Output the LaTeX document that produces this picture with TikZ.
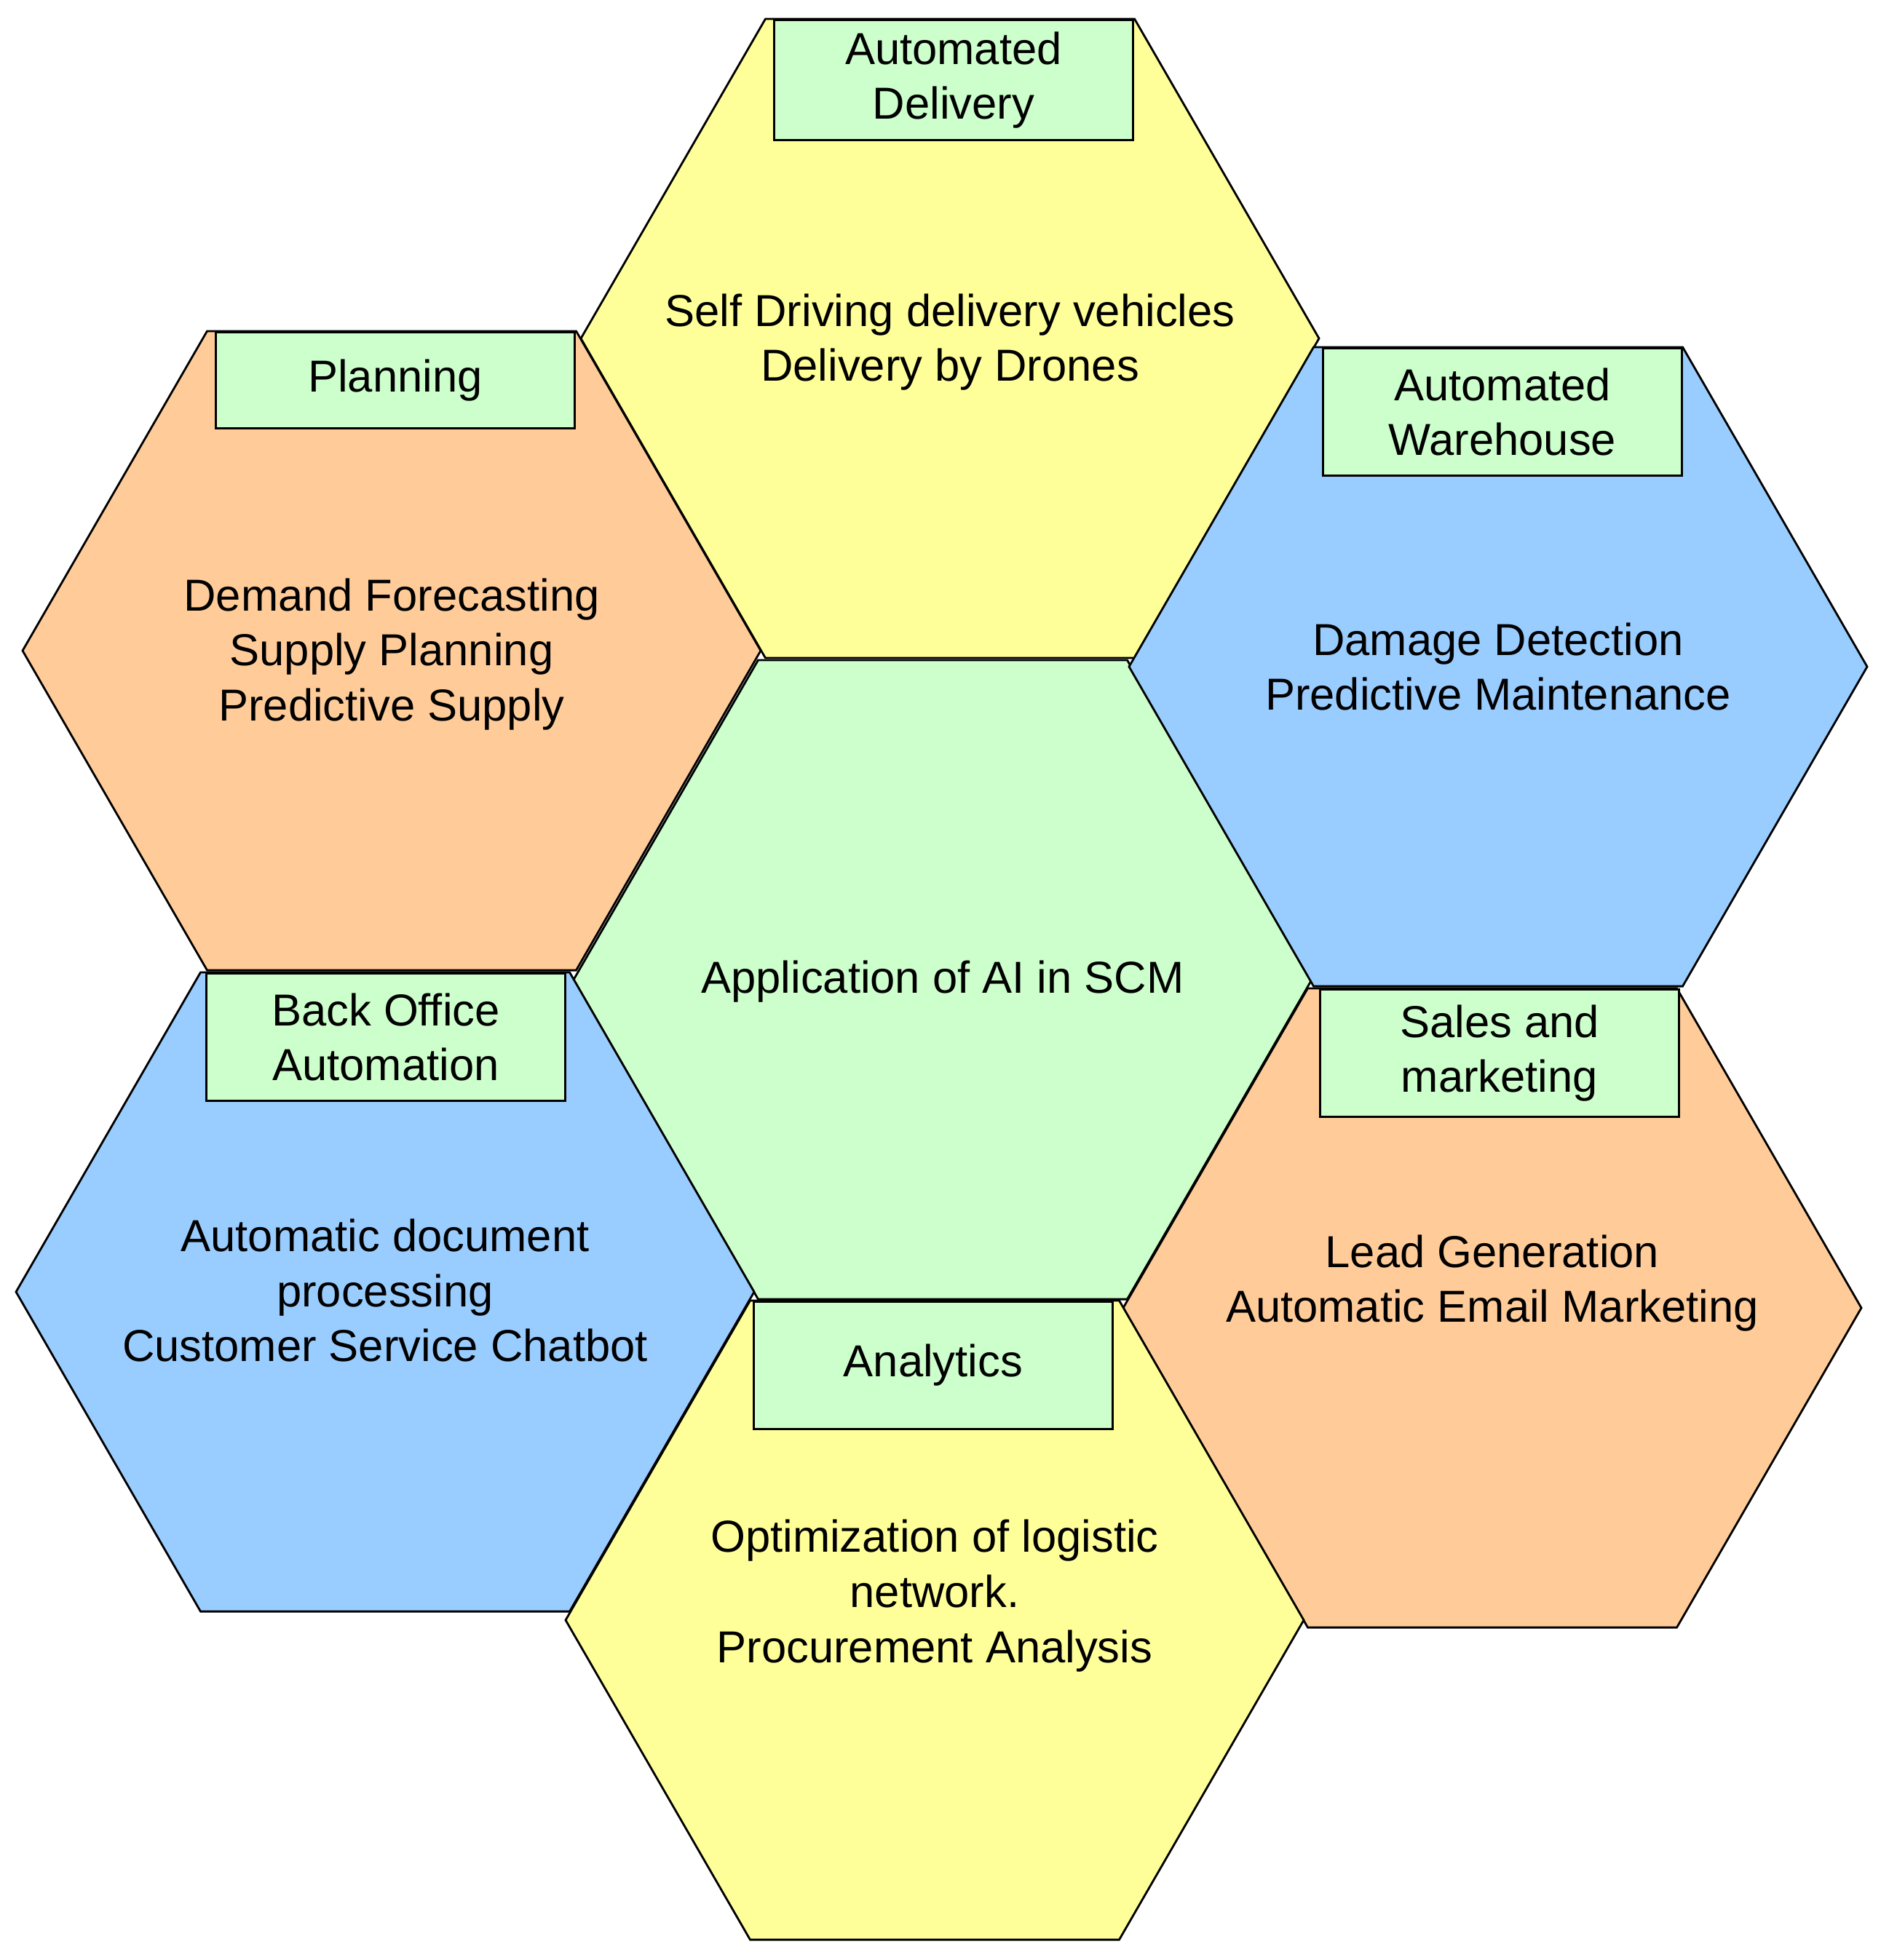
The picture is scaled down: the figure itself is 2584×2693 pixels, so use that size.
\documentclass[tikz,border=0pt]{standalone}
\usepackage{fontspec}
\setmainfont{Liberation Sans}
\usetikzlibrary{calc,positioning}
\definecolor{cellyellow}{HTML}{FFFF99}
\definecolor{cellorange}{HTML}{FFCC99}
\definecolor{cellblue}{HTML}{99CCFF}
\definecolor{cellgreen}{HTML}{CCFFCC}

\begin{document}
\begin{tikzpicture}[x=0.01cm,y=-0.01cm,font=\fontsize{17.5}{21.5}\selectfont,
  cell/.style={draw=black,line width=0.8pt},
  tag/.style={draw=black,line width=0.8pt,fill=cellgreen,minimum width=4.93cm,minimum height=1.75cm,inner sep=0pt,align=center,anchor=north east},
  txt/.style={align=center}]
\useasboundingbox (0,0) rectangle (2584,2693);
% hexagon centres
\coordinate (core) at (1295,1346);
\coordinate (delivery) at (1305,465);
\coordinate (planning) at (538,894);
\coordinate (warehouse) at (2058,916);
\coordinate (backoffice) at (529,1775);
\coordinate (sales) at (2050,1797);
\coordinate (analytics) at (1284,2226);
\foreach \c/\f in {core/cellgreen,delivery/cellyellow,planning/cellorange,warehouse/cellblue,backoffice/cellblue,sales/cellorange,analytics/cellyellow}
  \filldraw[cell,fill=\f] (\c) ++(0:507) -- ++(120:507) -- ++(180:507) -- ++(240:507) -- ++(300:507) -- ++(0:507) -- cycle;
% contents
\node[txt,yshift=-0.3mm] (coretxt) at (core) {Application of AI in SCM};
\node[txt,yshift=-0.5mm] (deliverytxt) at (delivery) {Self Driving delivery vehicles\\Delivery by Drones};
\node[txt,yshift=-0.5mm] (planningtxt) at (planning) {Demand Forecasting\\Supply Planning\\Predictive Supply};
\node[txt] (warehousetxt) at (warehouse) {Damage Detection\\Predictive Maintenance};
\node[txt,yshift=0.2mm] (backofficetxt) at (backoffice) {Automatic document\\processing\\Customer Service Chatbot};
\node[txt,yshift=3.4mm] (salestxt) at (sales) {Lead Generation\\Automatic Email Marketing};
\node[txt,yshift=3.35mm] (analyticstxt) at (analytics) {Optimization of logistic\\network.\\Procurement Analysis};
% titles
\node[tag,minimum height=1.65cm] (deliverytag) at ($(delivery)+(253,-439)$) {Automated\\Delivery};
\node[tag,minimum height=1.32cm] (planningtag) at ($(planning)+(253,-439)$) {Planning};
\node[tag] (warehousetag) at ($(warehouse)+(254,-439)$) {Automated\\Warehouse};
\node[tag] (backofficetag) at ($(backoffice)+(249,-439)$) {Back Office\\Automation};
\node[tag] (salestag) at ($(sales)+(258,-439)$) {Sales and\\marketing};
\node[tag] (analyticstag) at ($(analytics)+(246,-439)$) {Analytics};
\end{tikzpicture}
\end{document}
